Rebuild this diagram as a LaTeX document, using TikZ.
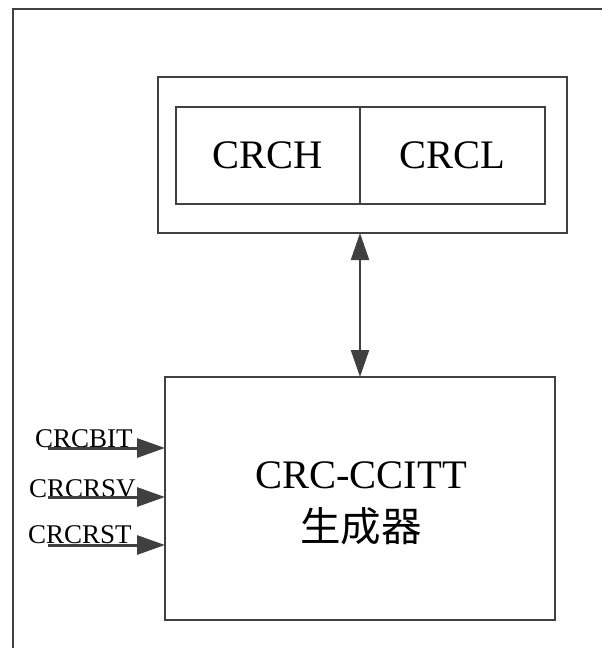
\documentclass[tikz,border=0pt]{standalone}
\usepackage{fontspec}
\setmainfont{Liberation Serif}
\newfontfamily\cjk{Noto Sans CJK SC}
\usetikzlibrary{arrows.meta}
\definecolor{ln}{HTML}{404040}
\tikzset{
  boxst/.style={draw=ln, line width=2pt, inner sep=0pt, outer sep=0pt, minimum width=#1},
  bigtxt/.style={font=\fontsize{40.5}{46}\selectfont},
  smalltxt/.style={font=\fontsize{27}{30}\selectfont, inner sep=0pt, anchor=base west},
  inarrow/.style={draw=ln, line width=3pt, -{Triangle[length=28pt,width=19pt]}},
  bothArrow/.style={draw=ln, line width=2.2pt, {Triangle[length=27pt,width=18pt]}-{Triangle[length=27pt,width=18pt]}}
}
\begin{document}
\begin{tikzpicture}[x=1pt,y=-1pt]
\useasboundingbox (0,0) rectangle (602,648);
\clip (0,0) rectangle (602,648);
% outer frame (open to right and bottom)
\draw[draw=ln, line width=2pt] (12.5,660) -- (12.5,9) -- (615,9);
% register box
\node[boxst, minimum width=409pt, minimum height=156pt] (reg) at (362.5,155) {};
\node[boxst, minimum width=184pt, minimum height=97pt, bigtxt] (crch) at (268,155.5) {CRCH};
\node[boxst, minimum width=185pt, minimum height=97pt, bigtxt] (crcl) at (452.5,155.5) {CRCL};
% generator
\node[boxst, minimum width=390pt, minimum height=243pt] (gen) at (360,498.5) {};
\node[bigtxt, align=center, inner sep=0pt] (gentxt) at (361,503) {CRC-CCITT\\[7pt]{\cjk 生成器}};
% bidirectional arrow
\coordinate (atop) at (360,233);
\draw[bothArrow] (atop) -- (atop |- gen.north);
% input labels
\node[smalltxt] (bit) at (35,447) {CRCBIT};
\node[smalltxt] (rsv) at (29,497) {CRCRSV};
\node[smalltxt] (rst) at (28,543) {CRCRST};
\coordinate (bitS) at (48,448);
\coordinate (rsvS) at (48,497);
\coordinate (rstS) at (48,545);
\draw[inarrow] (bitS) -- (bitS -| gen.west);
\draw[inarrow] (rsvS) -- (rsvS -| gen.west);
\draw[inarrow] (rstS) -- (rstS -| gen.west);
\end{tikzpicture}
\end{document}
